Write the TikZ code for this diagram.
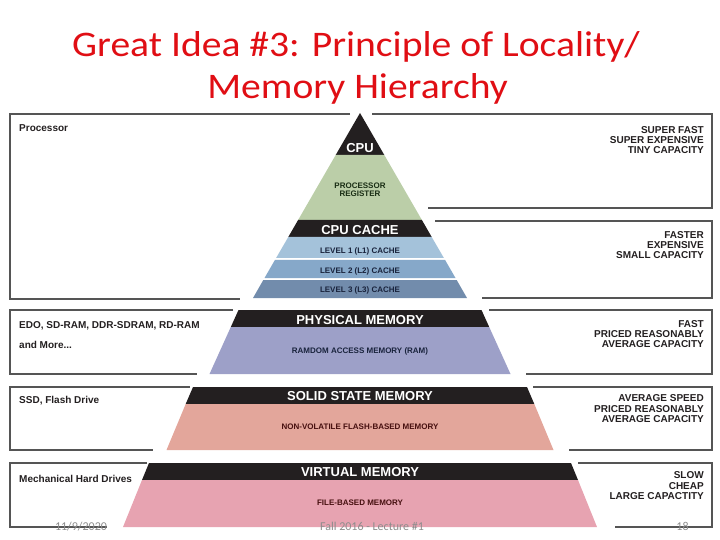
\documentclass[tikz,border=0pt]{standalone}
\usepackage{fontspec}
\setmainfont{Liberation Sans}
\newfontfamily\titlefont{Carlito}
\definecolor{titlered}{RGB}{224,14,20}
\definecolor{pyblack}{RGB}{35,31,32}
\definecolor{regreen}{RGB}{187,206,168}
\definecolor{lone}{RGB}{164,194,218}
\definecolor{ltwo}{RGB}{134,168,201}
\definecolor{lthree}{RGB}{114,140,172}
\definecolor{rampurple}{RGB}{157,160,200}
\definecolor{ssdsalmon}{RGB}{227,166,155}
\definecolor{vmpink}{RGB}{231,163,177}
\definecolor{boxline}{RGB}{85,85,85}
\definecolor{footgray}{RGB}{140,140,140}
\definecolor{navytext}{RGB}{25,35,60}
\definecolor{greentext}{RGB}{25,45,20}
\definecolor{redtext}{RGB}{70,15,15}
\tikzset{
  boxedge/.style={draw=boxline,line width=1.4bp},
  sidetext/.style={inner sep=0pt,font=\fontsize{10bp}{10.3bp}\selectfont\bfseries,text=pyblack},
  bandtext/.style={inner sep=0pt,anchor=base,font=\fontsize{13bp}{13bp}\selectfont\bfseries,text=white},
  smalltext/.style={inner sep=0pt,anchor=base,font=\fontsize{8bp}{8.4bp}\selectfont\bfseries},
  foottext/.style={inner sep=0pt,anchor=base,font=\titlefont\fontsize{12bp}{12bp}\selectfont,text=footgray},
  titletext/.style={inner sep=0pt,anchor=base,font=\titlefont\fontsize{36bp}{36bp}\selectfont,text=titlered},
}
\begin{document}
\begin{tikzpicture}[x=1bp,y=-1bp]
\useasboundingbox (0,0) rectangle (720,540);
% ---------- title ----------
\node[titletext] (t1) at (356,56.7) {\scalebox{1.1}[1]{Great Idea \#3: Principle of Locality/}};
\node[titletext] (t2) at (357.5,98.3) {\scalebox{1.1}[1]{Memory Hierarchy}};
% ---------- pyramid section 1 ----------
\fill[pyblack] (360,113) -- (384.3,155) -- (335.7,155) -- cycle;
\fill[regreen] (335.7,155) -- (384.3,155) -- (421.9,220) -- (298.1,220) -- cycle;
\fill[pyblack] (298.1,220) -- (421.9,220) -- (431.7,237) -- (288.3,237) -- cycle;
\fill[lone] (288.3,237) -- (431.7,237) -- (443.9,258) -- (276.1,258) -- cycle;
\fill[ltwo] (274.9,260) -- (445.1,260) -- (455.5,278) -- (264.5,278) -- cycle;
\fill[lthree] (263.3,280) -- (456.7,280) -- (467,298) -- (253,298) -- cycle;
% ---------- section 2 ----------
\fill[pyblack] (238.5,310) -- (481.5,310) -- (489.2,327) -- (230.8,327) -- cycle;
\fill[rampurple] (230.8,327) -- (489.2,327) -- (510.5,374) -- (209.5,374) -- cycle;
% ---------- section 3 ----------
\fill[pyblack] (193,387) -- (527,387) -- (534.3,404) -- (185.7,404) -- cycle;
\fill[ssdsalmon] (185.7,404) -- (534.3,404) -- (553.5,450) -- (166.5,450) -- cycle;
% ---------- section 4 ----------
\fill[pyblack] (149,463) -- (571,463) -- (578,480) -- (142,480) -- cycle;
\fill[vmpink] (142,480) -- (578,480) -- (597,527) -- (123,527) -- cycle;
% ---------- pyramid labels ----------
\node[bandtext] (cpu) at (360,152.5) {CPU};
\node[smalltext,align=center,text=greentext] (reg) at (360,196.7) {PROCESSOR\\REGISTER};
\node[bandtext] (cache) at (360,234.3) {CPU CACHE};
\node[smalltext,text=navytext] (l1) at (360,253.5) {LEVEL 1 (L1) CACHE};
\node[smalltext,text=navytext] (l2) at (360,273.3) {LEVEL 2 (L2) CACHE};
\node[smalltext,text=navytext] (l3) at (360,292.7) {LEVEL 3 (L3) CACHE};
\node[bandtext] (phys) at (360,324) {PHYSICAL MEMORY};
\node[smalltext,text=navytext] (ram) at (360,353.3) {RAMDOM ACCESS MEMORY (RAM)};
\node[bandtext] (ssm) at (360,400) {SOLID STATE MEMORY};
\node[smalltext,text=redtext] (flash) at (360,429) {NON-VOLATILE FLASH-BASED MEMORY};
\node[bandtext] (virt) at (360,476.7) {VIRTUAL MEMORY};
\node[smalltext,text=redtext] (file) at (360,505.7) {FILE-BASED MEMORY};
% ---------- left boxes ----------
\draw[boxedge] (350,114) -- (10,114) -- (10,299) -- (240,299);
\draw[boxedge] (233,310) -- (10,310) -- (10,374) -- (197,374);
\draw[boxedge] (190,387) -- (10,387) -- (10,450) -- (153,450);
\draw[boxedge] (147,463) -- (10,463) -- (10,527) -- (107,527);
% ---------- right boxes ----------
\draw[boxedge] (372,114) -- (712,114) -- (712,208) -- (428,208);
\draw[boxedge] (435,221) -- (712,221) -- (712,298) -- (482,298);
\draw[boxedge] (489,310) -- (712,310) -- (712,374) -- (526,374);
\draw[boxedge] (533,387) -- (712,387) -- (712,450) -- (569,450);
\draw[boxedge] (578,463) -- (712,463) -- (712,527) -- (615,527);
% ---------- left texts ----------
\node[sidetext,anchor=base west] (proc) at (19,131.5) {Processor};
\node[sidetext,anchor=base west] (edo) at (19,328) {EDO, SD-RAM, DDR-SDRAM, RD-RAM};
\node[sidetext,anchor=base west] (more) at (19,348) {and More...};
\node[sidetext,anchor=base west] (ssd) at (19,403.5) {SSD, Flash Drive};
\node[sidetext,anchor=base west] (hdd) at (19,482.5) {Mechanical Hard Drives};
% ---------- right texts (anchored at the last line's baseline) ----------
\node[sidetext,anchor=base east,align=right] (r1) at (704,153.7) {SUPER FAST\\SUPER EXPENSIVE\\TINY CAPACITY};
\node[sidetext,anchor=base east,align=right] (r2) at (704,258.7) {FASTER\\EXPENSIVE\\SMALL CAPACITY};
\node[sidetext,anchor=base east,align=right] (r3) at (704,347.7) {FAST\\PRICED REASONABLY\\AVERAGE CAPACITY};
\node[sidetext,anchor=base east,align=right] (r4) at (704,422.5) {AVERAGE SPEED\\PRICED REASONABLY\\AVERAGE CAPACITY};
\node[sidetext,anchor=base east,align=right] (r5) at (704,499.3) {SLOW\\CHEAP\\LARGE CAPACTITY};
% ---------- footer ----------
\node[foottext] (date) at (81,530) {11/9/2020};
\node[foottext] (course) at (372,530) {Fall 2016 - Lecture \#1};
\node[foottext] (page) at (682.5,530) {18};
\end{tikzpicture}
\end{document}
